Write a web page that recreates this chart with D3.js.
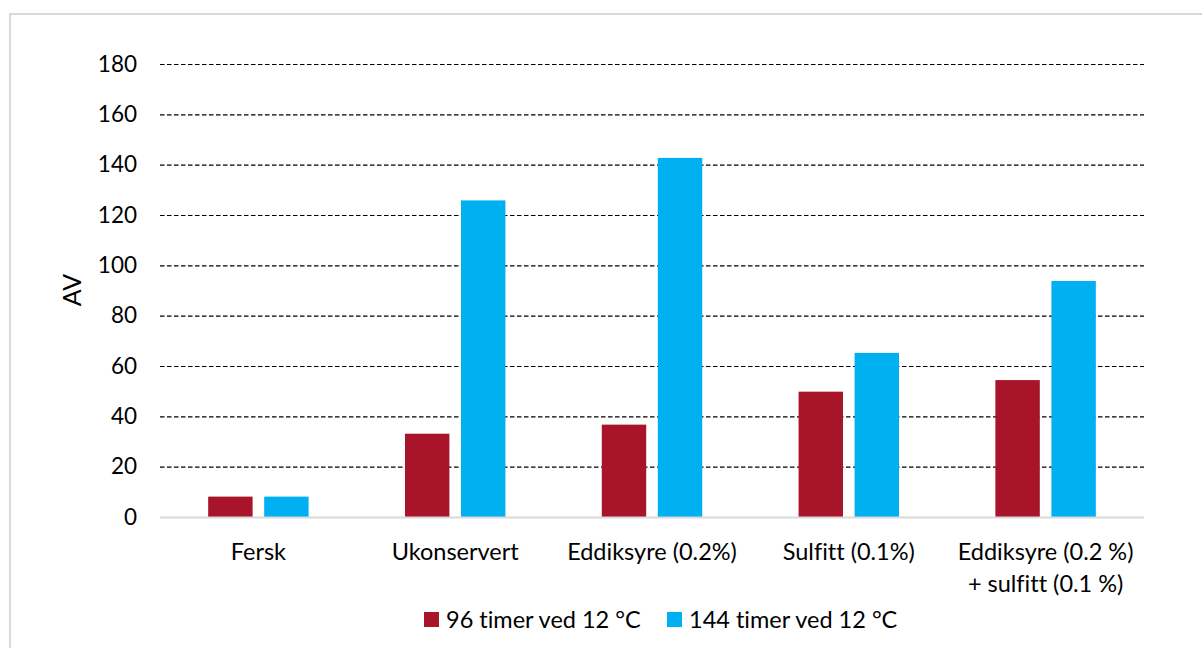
<!DOCTYPE html>
<html><head><meta charset="utf-8">
<script src="https://cdn.jsdelivr.net/npm/d3@7"></script>
<style>
html,body{margin:0;padding:0;background:#fff;}
svg{display:block;font-family:Lato,"Open Sans",sans-serif;font-variant-ligatures:none;font-feature-settings:"liga" 0;}
</style></head>
<body>
<svg id="chart" width="1202" height="648"></svg>
<script>
const categories = ["Fersk", "Ukonservert", "Eddiksyre (0.2%)", "Sulfitt (0.1%)", "Eddiksyre (0.2 %)\n+ sulfitt (0.1 %)"];
const seriesNames = ["96 timer ved 12 °C", "144 timer ved 12 °C"];
const series96 = [8.1, 33.1, 36.7, 49.8, 54.4];
const series144 = [8.1, 125.8, 142.7, 65.2, 93.8];
const yTicks = [0, 20, 40, 60, 80, 100, 120, 140, 160, 180];
const colors = ["#a8142a", "#00b0f0"];

const svg = d3.select("#chart");
const margin = {left:160, right:1144, top:64, bottom:517};
const labelSize = 23.5;
const tickSize = 22.5;

// frame
svg.append("rect").attr("x",10).attr("y",14).attr("width",1202).attr("height",648)
  .attr("fill","none").attr("stroke","#d9d9d9").attr("stroke-width",2);

const x = d3.scaleBand().domain(categories).range([margin.left, margin.right]).paddingInner(0).paddingOuter(0);
const y = d3.scaleLinear().domain([0,180]).range([margin.bottom, margin.top]);
const xs = d3.scaleBand().domain([0,1]).range([0, x.bandwidth()]).paddingInner(0.207).paddingOuter(0.86);

// gridlines + tick labels
const yAxis = d3.axisLeft(y).tickValues(yTicks).tickSize(0).tickPadding(0);
const gy = svg.append("g").attr("transform",`translate(${margin.left},0)`).call(yAxis);
gy.select(".domain").remove();
gy.selectAll("text").attr("x",-23).attr("font-size",tickSize).attr("fill","#000").attr("font-family","Lato");
gy.selectAll(".tick").filter(d=>d>0).append("line")
  .attr("x1",0).attr("x2",margin.right-margin.left)
  .attr("stroke","#000").attr("stroke-width",1.1).attr("stroke-dasharray","4.5,2.5");

// bars
const data = categories.map((c,i)=>({c, vals:[series96[i], series144[i]]}));
const groups = svg.append("g").selectAll("g").data(data).join("g")
  .attr("transform",d=>`translate(${x(d.c)},0)`);
groups.selectAll("rect").data(d=>d.vals.map((v,k)=>({v,k}))).join("rect")
  .attr("x",d=>xs(d.k)).attr("width",xs.bandwidth())
  .attr("y",d=>y(d.v)).attr("height",d=>y(0)-y(d.v))
  .attr("fill",d=>colors[d.k]);

// baseline
svg.append("line").attr("x1",margin.left).attr("x2",margin.right)
  .attr("y1",y(0)+0.5).attr("y2",y(0)+0.5).attr("stroke","#d9d9d9").attr("stroke-width",2);

// x labels
const xAxis = d3.axisBottom(x).tickSize(0).tickPadding(0);
const gx = svg.append("g").attr("transform",`translate(0,${y(0)})`).call(xAxis);
gx.select(".domain").remove();
gx.selectAll("text").each(function(d){
  const t = d3.select(this);
  t.text(null).attr("font-size",labelSize).attr("fill","#000").attr("font-family","Lato").attr("dy",null).attr("y",0);
  d.split("\n").forEach((line,i)=>{
    t.append("tspan").attr("x",0).attr("y",43+i*32).text(line);
  });
});

// y title
svg.append("text").attr("transform","translate(81,290) rotate(-90)")
  .attr("text-anchor","middle").attr("font-size",25).attr("fill","#000").text("AV");

// legend
const legendX = [424, 667];
const lg = svg.append("g").selectAll("g").data(seriesNames).join("g")
  .attr("transform",(d,i)=>`translate(${legendX[i]},612)`);
lg.append("rect").attr("width",15).attr("height",15).attr("fill",(d,i)=>colors[i]);
lg.append("text").attr("x",22).attr("y",16).attr("font-size",labelSize).attr("fill","#000").text(d=>d);
</script>
</body></html>
